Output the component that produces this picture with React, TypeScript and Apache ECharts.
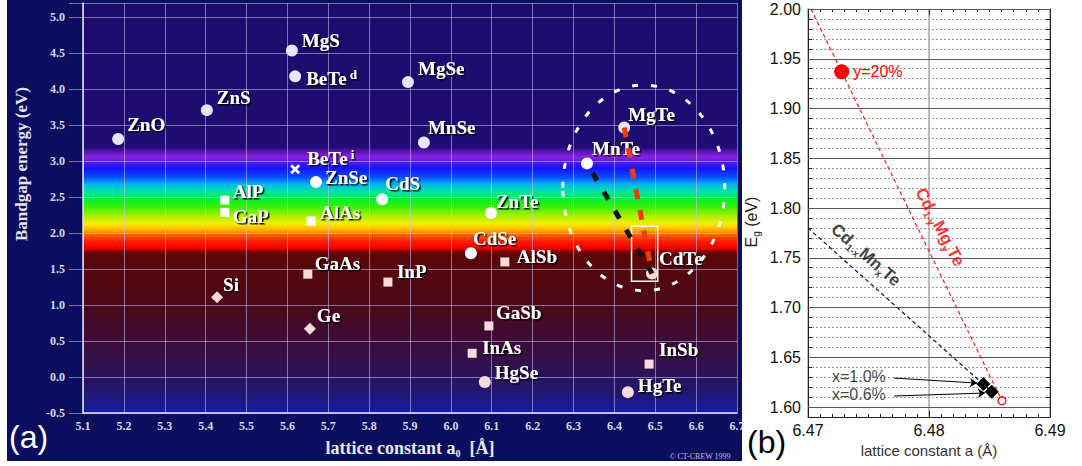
import React, { useEffect, useRef } from "react";
import * as echarts from "echarts";

// ---------------- Panel (a): bandgap vs lattice constant ----------------
const iiviNames = ["ZnO", "ZnS", "MgS", "BeTe^d", "MgSe", "MnSe", "MgTe", "MnTe", "ZnSe", "CdS", "ZnTe", "CdSe", "CdTe", "HgSe", "HgTe"];
const iiviA = [5.186, 5.403, 5.611, 5.619, 5.895, 5.934, 6.424, 6.333, 5.67, 5.832, 6.098, 6.049, 6.492, 6.083, 6.433];
const iiviEg = [3.31, 3.71, 4.54, 4.18, 4.1, 3.26, 3.47, 2.97, 2.71, 2.47, 2.28, 1.72, 1.44, -0.07, -0.21];

const iiivNames = ["AlP", "GaP", "AlAs", "GaAs", "InP", "AlSb", "GaSb", "InAs", "InSb"];
const iiivA = [5.447, 5.447, 5.658, 5.65, 5.846, 6.132, 6.093, 6.052, 6.485];
const iiivEg = [2.46, 2.29, 2.17, 1.43, 1.32, 1.6, 0.71, 0.33, 0.18];

const ivNames = ["Si", "Ge"];
const ivA = [5.428, 5.655];
const ivEg = [1.11, 0.67];

const indirectNames = ["BeTe^i"];
const indirectA = [5.619];
const indirectEg = [2.89];

const aXTicks = { min: 5.1, max: 6.7, step: 0.1 };
const aYTicks = { min: -0.5, max: 5.2, step: 0.5 };

// annotation region around CdTe (data units)
const boxA = [6.442, 6.506];
const boxEg = [2.097, 1.333];
const ringCenter = [6.472, 2.63];
const ringHalf = [0.198, 1.43];

// ---------------- Panel (b): zoom near CdTe ----------------
const mgLineA = [6.47025, 6.48603];
const mgLineEg = [2.0, 1.6063];
const mnLineA = [6.47, 6.48518];
const mnLineEg = [1.78, 1.6154];
const mgPointA = [6.47278];
const mgPointEg = [1.937];
const mgPointLabels = ["y=20%"];
const cdteA = [6.48603];
const cdteEg = [1.6063];
const mnPointA = [6.48449, 6.48518];
const mnPointEg = [1.6231, 1.6154];
const mnPointLabels = ["x=1.0%", "x=0.6%"];
const mnLabelA = [6.47198, 6.47198];
const mnLabelEg = [1.6312, 1.6131];
const arrowStartA = [6.47711, 6.47711];
const arrowStartEg = [1.6291, 1.6111];
const arrowEndA = [6.48397, 6.48463];
const arrowEndEg = [1.6241, 1.6141];
const alloyNames = ["Cd{s|1-y}Mg{s|y}Te", "Cd{s|1-x}Mn{s|x}Te"];
const alloyLabelA = [6.48091, 6.47479];
const alloyLabelEg = [1.7809, 1.7528];
const bMajorY = [1.6, 1.65, 1.7, 1.75, 1.8, 1.85, 1.9, 1.95, 2.0];
const bY = { min: 1.59, max: 2.0, step: 0.01 };
const bX = { min: 6.47, max: 6.49, step: 0.01 };

// ---------------- styles ----------------
const serif = "'Liberation Serif', 'Times New Roman', serif";
const sans = "'Liberation Sans', Arial, sans-serif";

const labelOffset: Record<string, [number, number]> = {
  ZnO: [9, -14], ZnS: [10, -13], MgS: [10, -10], "BeTe^d": [11, 2], MgSe: [10, -14], MnSe: [4, -15],
  MgTe: [4, -13], MnTe: [5, -15], ZnSe: [9, -5], CdS: [3, -16], ZnTe: [5, -12], CdSe: [2, -15],
  CdTe: [7, -15], HgSe: [10, -10], HgTe: [10, -7],
  AlP: [8, -9], GaP: [8, 4], AlAs: [9, -8], GaAs: [7, -11], InP: [9, -11], AlSb: [12, -5],
  GaSb: [7, -13], InAs: [10, -6], InSb: [10, -15],
  Si: [6, -13], Ge: [7, -13], "BeTe^i": [12, -11],
};

const rainbow: [number, string][] = [
  [5.2, "#1b0b6b"], [3.2, "#1f0c72"], [3.13, "#5a14b8"], [3.06, "#8c22dc"], [2.98, "#4a18f0"],
  [2.9, "#1414ff"], [2.78, "#0a4cff"], [2.68, "#00b4f0"], [2.58, "#00e4a0"], [2.48, "#00ee3c"],
  [2.36, "#3cf000"], [2.24, "#a8f000"], [2.13, "#f4ee00"], [2.05, "#ffb400"], [1.97, "#ff5a00"],
  [1.88, "#ff1800"], [1.78, "#e40000"], [1.745, "#7c0808"], [1.7, "#5c0606"], [1.0, "#4a0818"],
  [0.3, "#380e44"], [-0.2, "#22166e"], [-0.5, "#161ca6"],
];

const markerColor = (e: number) => (e > 3.0 ? "#e8e4fa" : e > 1.7 ? "#ffffff" : "#f8dadc");
const richName = (n: string) => n.replace(/\^(\w+)/, "{sup| $1}");

const shadow = { textShadowColor: "rgba(0,0,0,0.95)", textShadowBlur: 1.5, textShadowOffsetX: 1.5, textShadowOffsetY: 1.5 };
const labelColor = "#ffffff";
const compoundLabel = {
  show: true,
  position: "inside",
  align: "left",
  verticalAlign: "middle",
  fontFamily: serif,
  fontWeight: "bold",
  fontSize: 19,
  lineHeight: 21,
  color: labelColor,
  opacity: 1,
  ...shadow,
  formatter: (p: any) => richName(p.name),
  rich: {
    sup: { fontFamily: serif, fontWeight: "bold", fontSize: 13, lineHeight: 10, verticalAlign: "top", color: labelColor, ...shadow },
  },
};

const items = (names: string[], as: number[], egs: number[]) =>
  names.map((n, i) => ({
    name: n,
    value: [as[i], egs[i]],
    itemStyle: { color: markerColor(egs[i]), opacity: 1 },
    label: { offset: labelOffset[n] || [8, -12] },
  }));

const pt = (n: string) => {
  const i = iiviNames.indexOf(n);
  return [iiviA[i], iiviEg[i]];
};
const zip = (a: number[], b: number[]) => a.map((v, i) => [v, b[i]]);

const xMark = "path://M0,2 L2,0 L5,3 L8,0 L10,2 L7,5 L10,8 L8,10 L5,7 L2,10 L0,8 L3,5 Z";

function buildOption(): any {
  const span = aYTicks.max - aYTicks.min;
  const gradient = new echarts.graphic.LinearGradient(
    0, 0, 0, 1,
    rainbow.map(([v, c]) => ({ offset: (aYTicks.max - v) / span, color: c }))
  );
  const aGrid = "rgba(205,195,255,0.55)";
  const aTick = { color: "#d8d8e8", fontFamily: serif, fontWeight: "bold", fontSize: 12 };

  return {
    animation: false,
    backgroundColor: "#ffffff",
    textStyle: { fontFamily: sans },
    grid: [
      { left: 83, right: 345, top: 3, bottom: 53, show: true, borderWidth: 0, backgroundColor: gradient },
      { left: 808, right: 32, top: 9, bottom: 49, show: false },
    ],
    xAxis: [
      {
        gridIndex: 0, type: "value", min: aXTicks.min, max: aXTicks.max, interval: aXTicks.step,
        axisLine: { show: true, onZero: false, lineStyle: { color: "#e6e6f6", width: 1.5 } },
        axisTick: { show: false },
        axisLabel: { ...aTick, margin: 7, formatter: (v: number) => v.toFixed(1) },
        splitLine: { show: true, lineStyle: { color: aGrid, width: 1 } },
        name: "lattice constant a{sub|0}  [Å]",
        nameLocation: "middle",
        nameGap: 21,
        nameTextStyle: {
          color: "#e8e8f2", fontFamily: serif, fontWeight: "bold", fontSize: 18, lineHeight: 22,
          rich: { sub: { color: "#e8e8f2", fontFamily: serif, fontWeight: "bold", fontSize: 10, lineHeight: 12, verticalAlign: "bottom" } },
        },
      },
      {
        gridIndex: 1, type: "value", position: "bottom", min: bX.min, max: bX.max, interval: bX.step,
        axisLine: { show: true, onZero: false, lineStyle: { color: "#222", width: 1 } },
        axisTick: { show: true, inside: true, length: 6, lineStyle: { color: "#222" } },
        minorTick: { show: true, splitNumber: 10, length: 3, lineStyle: { color: "#222" } },
        axisLabel: { color: "#111", fontSize: 16, margin: 5, fontFamily: sans, formatter: (v: number) => v.toFixed(2) },
        splitLine: { show: true, lineStyle: { color: "#a8a8a8", width: 1.5 } },
        name: "lattice constant a (Å)",
        nameLocation: "middle",
        nameGap: 23,
        nameTextStyle: { color: "#333", fontSize: 15, fontFamily: sans },
      },
      {
        gridIndex: 1, type: "value", position: "top", min: bX.min, max: bX.max, interval: bX.step,
        axisLine: { show: true, onZero: false, lineStyle: { color: "#222", width: 1 } },
        axisTick: { show: true, inside: true, length: 6, lineStyle: { color: "#222" } },
        minorTick: { show: true, splitNumber: 10, length: 3, lineStyle: { color: "#222" } },
        axisLabel: { show: false },
        splitLine: { show: false },
      },
    ],
    yAxis: [
      {
        gridIndex: 0, type: "value", min: aYTicks.min, max: aYTicks.max, interval: aYTicks.step,
        axisLine: { show: true, onZero: false, lineStyle: { color: "#e6e6f6", width: 1.5 } },
        axisTick: { show: true, length: 14, lineStyle: { color: aGrid } },
        axisLabel: {
          ...aTick, margin: 18,
          formatter: (v: number) => (Math.abs(v * 2 - Math.round(v * 2)) < 1e-6 ? v.toFixed(1) : ""),
        },
        splitLine: { show: true, lineStyle: { color: aGrid, width: 1 } },
      },
      {
        gridIndex: 1, type: "value", position: "left", min: bY.min, max: bY.max, interval: bY.step,
        axisLine: { show: true, onZero: false, lineStyle: { color: "#222", width: 1 } },
        axisTick: { show: true, inside: true, length: 4, lineStyle: { color: "#222" } },
        axisLabel: {
          color: "#111", fontSize: 16, margin: 7, fontFamily: sans,
          formatter: (v: number) => (Math.round(v * 100) % 5 === 0 ? v.toFixed(2) : ""),
        },
        splitLine: { show: true, lineStyle: { color: "#9a9a9a", width: 1, type: [2, 2] } },
      },
      {
        gridIndex: 1, type: "value", position: "right", min: bY.min, max: bY.max, interval: bY.step,
        axisLine: { show: true, onZero: false, lineStyle: { color: "#222", width: 1 } },
        axisTick: { show: true, inside: true, length: 4, lineStyle: { color: "#222" } },
        axisLabel: { show: false },
        splitLine: { show: false },
      },
    ],
    series: [
      // panel (a)
      {
        type: "scatter", name: "II-VI", xAxisIndex: 0, yAxisIndex: 0, symbol: "circle", symbolSize: 12,
        itemStyle: { opacity: 1 }, data: items(iiviNames, iiviA, iiviEg), label: compoundLabel, z: 5, silent: true,
      },
      {
        type: "scatter", name: "III-V", xAxisIndex: 0, yAxisIndex: 0, symbol: "rect", symbolSize: 9,
        itemStyle: { opacity: 1 }, data: items(iiivNames, iiivA, iiivEg), label: compoundLabel, z: 5, silent: true,
      },
      {
        type: "scatter", name: "IV", xAxisIndex: 0, yAxisIndex: 0, symbol: "diamond", symbolSize: 12,
        itemStyle: { opacity: 1 }, data: items(ivNames, ivA, ivEg), label: compoundLabel, z: 5, silent: true,
      },
      {
        type: "scatter", name: "indirect", xAxisIndex: 0, yAxisIndex: 0, symbol: xMark, symbolSize: 10,
        itemStyle: { opacity: 1 },
        data: items(indirectNames, indirectA, indirectEg).map((d) => ({ ...d, itemStyle: { color: "#ffffff", opacity: 1 } })),
        label: compoundLabel, z: 5, silent: true,
      },
      {
        type: "line", xAxisIndex: 0, yAxisIndex: 0, data: [pt("MgTe"), pt("CdTe")], symbol: "none", silent: true, z: 7,
        lineStyle: { color: "#f03c00", width: 5, type: [10, 11] },
        markArea: {
          silent: true, z: 6,
          itemStyle: { color: "rgba(0,0,0,0)", borderColor: "#ffffff", borderWidth: 1.5 },
          data: [[{ coord: [boxA[0], boxEg[0]] }, { coord: [boxA[1], boxEg[1]] }]],
        },
      },
      {
        type: "line", xAxisIndex: 0, yAxisIndex: 0, data: [pt("MnTe"), pt("CdTe")], symbol: "none", silent: true, z: 7,
        lineStyle: { color: "#141414", width: 5, type: [9, 13], dashOffset: 11 },
      },
      // panel (b)
      {
        type: "line", xAxisIndex: 1, yAxisIndex: 1, data: zip(mgLineA, mgLineEg), symbol: "none", silent: true, z: 3,
        lineStyle: { color: "#ff1a1a", width: 1.2, type: [4, 3] },
        markLine: {
          silent: true, z: 1, symbol: ["none", "none"], label: { show: false },
          lineStyle: { color: "#5a5a5a", width: 1, type: "solid" },
          data: bMajorY.map((v) => ({ yAxis: v })),
        },
      },
      {
        type: "line", xAxisIndex: 1, yAxisIndex: 1, data: zip(mnLineA, mnLineEg), symbol: "none", silent: true, z: 3,
        lineStyle: { color: "#111111", width: 1.2, type: [4, 3] },
      },
      {
        type: "scatter", xAxisIndex: 1, yAxisIndex: 1, symbol: "circle", symbolSize: 15, silent: true, z: 4,
        itemStyle: { color: "#ff0000", opacity: 1 },
        data: mgPointA.map((a, i) => ({ name: mgPointLabels[i], value: [a, mgPointEg[i]] })),
        label: { show: true, position: "right", distance: 4, formatter: "{b}", color: "#ff0000", fontSize: 16, fontFamily: sans },
      },
      {
        type: "scatter", xAxisIndex: 1, yAxisIndex: 1, symbol: "circle", symbolSize: 8, silent: true, z: 4,
        itemStyle: { color: "#ffffff", borderColor: "#ff0000", borderWidth: 1.3, opacity: 1 },
        data: zip(cdteA, cdteEg),
      },
      {
        type: "scatter", xAxisIndex: 1, yAxisIndex: 1, symbol: "diamond", symbolSize: 14, silent: true, z: 4,
        itemStyle: { color: "#000000", opacity: 1 },
        data: mnPointA.map((a, i) => ({ name: mnPointLabels[i], value: [a, mnPointEg[i]] })),
        markLine: {
          silent: true, symbol: ["none", "arrow"], symbolSize: 7, label: { show: false },
          lineStyle: { color: "#000", width: 1, type: "solid" },
          data: arrowStartA.map((a, i) => [
            { coord: [a, arrowStartEg[i]] },
            { coord: [arrowEndA[i], arrowEndEg[i]] },
          ]),
        },
      },
      {
        type: "scatter", xAxisIndex: 1, yAxisIndex: 1, symbolSize: 1, silent: true, z: 5,
        itemStyle: { color: "rgba(0,0,0,0)" },
        data: [
          ...mnPointLabels.map((t, i) => ({
            value: [mnLabelA[i], mnLabelEg[i]],
            label: { formatter: t, align: "left", color: "#111", fontSize: 16, fontWeight: "normal" },
          })),
          {
            value: [alloyLabelA[0], alloyLabelEg[0]],
            label: { formatter: alloyNames[0], rotate: -62, color: "#ff0000" },
          },
          {
            value: [alloyLabelA[1], alloyLabelEg[1]],
            label: { formatter: alloyNames[1], rotate: -41, color: "#111111" },
          },
        ],
        label: {
          show: true, position: "inside", align: "center", verticalAlign: "middle",
          fontFamily: sans, fontWeight: "bold", fontSize: 17, lineHeight: 21,
          rich: { s: { fontFamily: sans, fontWeight: "bold", fontSize: 10, lineHeight: 10, verticalAlign: "bottom" } },
        },
      },
    ],
    graphic: {
      elements: [
        { id: "navy", type: "rect", z: -10, silent: true, shape: { x: 7, y: 0, width: 735, height: 461 }, style: { fill: "#0b0d5e" } },
        {
          id: "aYName", type: "text", z: 10, x: 21, y: 164, rotation: Math.PI / 2, silent: true,
          style: { text: "Bandgap energy (eV)", fill: "#e4e4f0", fontFamily: serif, fontWeight: "bold", fontSize: 17, align: "center", verticalAlign: "middle" },
        },
        {
          id: "bYName", type: "text", z: 10, x: 751, y: 222, rotation: Math.PI / 2, silent: true,
          style: {
            text: "E{sub|g} (eV)", fill: "#222", fontFamily: sans, fontSize: 16, lineHeight: 20, align: "center", verticalAlign: "middle",
            rich: { sub: { fontFamily: sans, fontSize: 10, lineHeight: 10, verticalAlign: "bottom", fill: "#222" } },
          },
        },
        {
          id: "aTag", type: "text", z: 10, x: 9, y: 437, silent: true,
          style: { text: "(a)", fill: "#ffffff", fontFamily: sans, fontSize: 32, align: "left", verticalAlign: "middle" },
        },
        {
          id: "bTag", type: "text", z: 10, x: 747, y: 442, silent: true,
          style: { text: "(b)", fill: "#000000", fontFamily: sans, fontSize: 32, align: "left", verticalAlign: "middle" },
        },
        {
          id: "copy", type: "text", z: 10, x: 700, y: 456, silent: true,
          style: { text: "© CT-CREW 1999", fill: "#c0c0d8", fontFamily: serif, fontSize: 8, align: "center", verticalAlign: "middle" },
        },
      ],
    },
  };
}

export default function App() {
  const ref = useRef<HTMLDivElement>(null);
  useEffect(() => {
    if (!ref.current) return;
    const chart = echarts.init(ref.current, null, { renderer: "svg" });
    chart.setOption(buildOption());
    const finder = { xAxisIndex: 0, yAxisIndex: 0 };
    const c = chart.convertToPixel(finder, ringCenter) as number[];
    const e = chart.convertToPixel(finder, [ringCenter[0] + ringHalf[0], ringCenter[1] + ringHalf[1]]) as number[];
    chart.setOption({
      graphic: {
        elements: [
          {
            id: "ring", type: "ellipse", z: 20, silent: true,
            shape: { cx: c[0], cy: c[1], rx: Math.abs(e[0] - c[0]), ry: Math.abs(c[1] - e[1]) },
            style: { fill: "none", stroke: "#ffffff", lineWidth: 3, lineDash: [6, 13] },
          },
        ],
      },
    });
    return () => chart.dispose();
  }, []);
  return <div ref={ref} style={{ position: "fixed", left: 0, top: 0, width: 1082, height: 466 }} />;
}
